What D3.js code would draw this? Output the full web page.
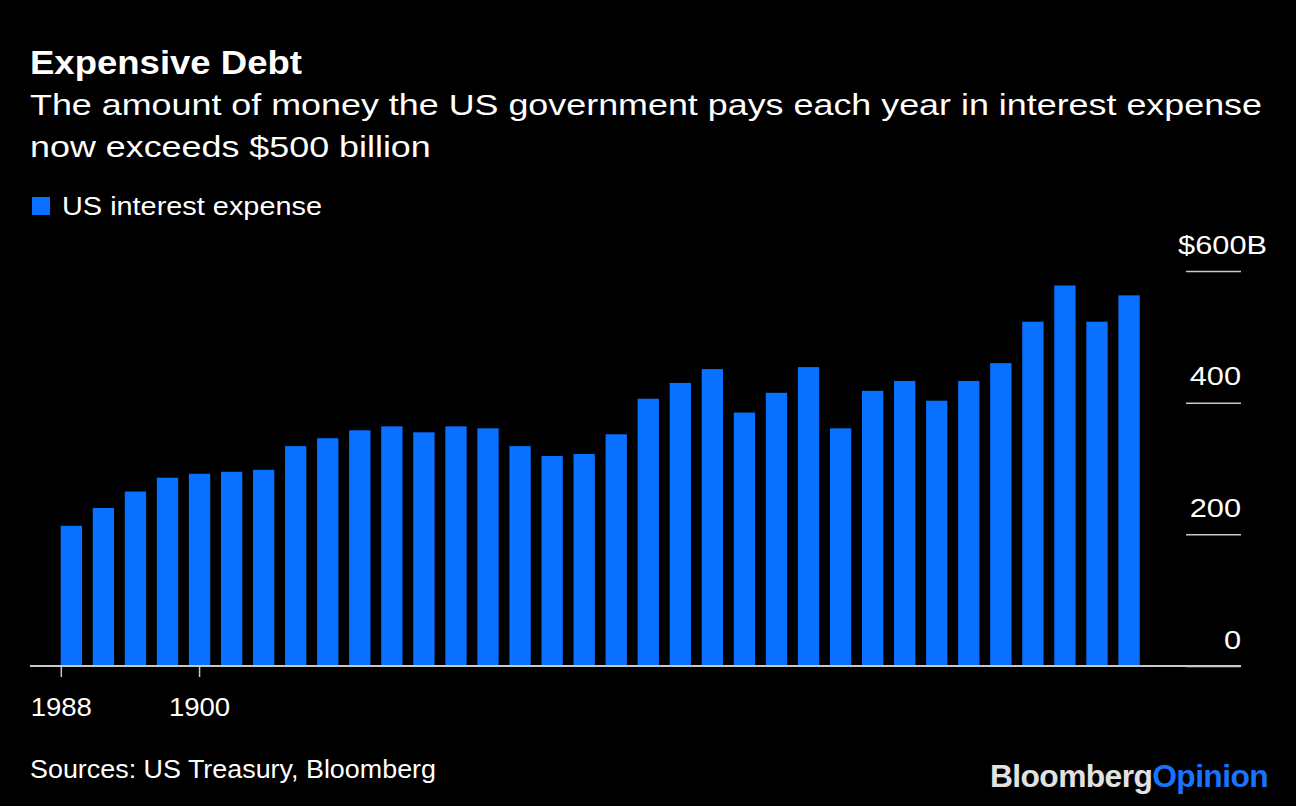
<!DOCTYPE html>
<html><head><meta charset="utf-8">
<script src="https://cdn.jsdelivr.net/npm/d3@7"></script>
<style>
html,body{margin:0;padding:0;background:#000;}
svg{display:block;}
text{font-family:"Liberation Sans",Arial,Helvetica,sans-serif;}
</style>
</head><body>
<svg id="chart" width="1296" height="806"></svg>
<script>
// ---- data ----
const years = [1988,1989,1990,1991,1992,1993,1994,1995,1996,1997,1998,1999,2000,2001,2002,2003,2004,
               2005,2006,2007,2008,2009,2010,2011,2012,2013,2014,2015,2016,2017,2018,2019,2020,2021];
const interestExpense = [213,240,265,286,292,295,298,334,346,358,364,355,364,361,334,319,322,
                         352,406,430,451,385,415,454,361,418,433,403,433,460,523,578,523,563];
const yTickValues = [0,200,400,600];
const yTickLabels = ["0","200","400","$600B"];
const xTickYears = [1988,1992];
const xTickLabels = ["1988","1900"];

const titleText = "Expensive Debt";
const subtitleLines = ["The amount of money the US government pays each year in interest expense",
                       "now exceeds $500 billion"];
const legendLabel = "US interest expense";
const sourceText = "Sources: US Treasury, Bloomberg";

// ---- style ----
const BAR = "#0a70ff";
const AXIS = "#c8c8c8";

const svg = d3.select("#chart");
svg.append("rect").attr("width",1296).attr("height",806).attr("fill","#000");

function fit(sel, w){ sel.attr("textLength", w).attr("lengthAdjust","spacingAndGlyphs"); }
function stretch(sel, f){
  sel.each(function(){
    const w = this.getComputedTextLength();
    d3.select(this).attr("textLength", w*f).attr("lengthAdjust","spacingAndGlyphs");
  });
}

// ---- header ----
const t = svg.append("text").attr("x",30).attr("y",74).attr("fill","#fff")
  .attr("font-size",33).attr("font-weight","bold").text(titleText);
fit(t, 272);

const s1 = svg.append("text").attr("x",30).attr("y",115).attr("fill","#fff")
  .attr("font-size",29).text(subtitleLines[0]);
const w1 = s1.node().getComputedTextLength();
const sf = 1232 / w1;
fit(s1, 1232);
const s2 = svg.append("text").attr("x",30).attr("y",157).attr("fill","#fff")
  .attr("font-size",29).text(subtitleLines[1]);
stretch(s2, sf);

// legend
svg.append("rect").attr("x",32).attr("y",197).attr("width",18).attr("height",18).attr("fill",BAR);
const lg = svg.append("text").attr("x",62).attr("y",215).attr("fill","#fff")
  .attr("font-size",26).text(legendLabel);
fit(lg, 260);

// ---- scales ----
const x = d3.scaleBand().domain(years).range([60.7, 1139.7]).paddingInner(0.335).paddingOuter(0);
const y = d3.scaleLinear().domain([0,600]).range([666,271]);

// bars
svg.append("g").selectAll("rect").data(years).join("rect")
  .attr("x", d => x(d))
  .attr("width", x.bandwidth())
  .attr("y", (d,i) => y(interestExpense[i]))
  .attr("height", (d,i) => y(0) - y(interestExpense[i]))
  .attr("fill", BAR);

// y axis (right side, short grid lines with labels above)
const yAxis = d3.axisLeft(y).tickValues(yTickValues).tickSize(55).tickPadding(0)
  .tickFormat((d,i) => yTickLabels[i]);
const gy = svg.append("g").attr("transform","translate(1241,0)").call(yAxis);
gy.select(".domain").remove();
gy.selectAll(".tick line").attr("stroke",AXIS).attr("stroke-width",1.5);
gy.selectAll(".tick text")
  .attr("x", d => d === 600 ? 26 : 0)
  .attr("dy", null)
  .attr("y", -18)
  .attr("text-anchor","end")
  .attr("fill","#fff")
  .attr("font-size",26.5)
  .attr("font-family",'"Liberation Sans",Arial,Helvetica,sans-serif');
stretch(gy.selectAll(".tick text"), 1.16);

// baseline
svg.append("line").attr("x1",30).attr("x2",1241).attr("y1",y(0)).attr("y2",y(0))
  .attr("stroke",AXIS).attr("stroke-width",2);

// x ticks
const xTickPos = xTickYears.map((yr,i) => i === 0 ? x(yr) + 0.6 : x(yr) + x.bandwidth()/2);
const gx = svg.append("g");
gx.selectAll("line").data(xTickPos).join("line")
  .attr("x1", d => d).attr("x2", d => d)
  .attr("y1", y(0)).attr("y2", y(0) + 11)
  .attr("stroke",AXIS).attr("stroke-width",1.5);
const xl = gx.selectAll("text").data(xTickPos).join("text")
  .attr("x", d => d).attr("y", 716)
  .attr("text-anchor","middle").attr("fill","#fff").attr("font-size",26.5)
  .text((d,i) => xTickLabels[i]);
stretch(xl, 1.04);

// source
const src = svg.append("text").attr("x",30).attr("y",778).attr("fill","#fff")
  .attr("font-size",25).text(sourceText);
fit(src, 406);

// logo
const logo = svg.append("text").attr("x",990).attr("y",787)
  .attr("font-size",31).attr("font-weight","bold").attr("letter-spacing",-0.6);
logo.append("tspan").attr("fill","#e2e2e2").text("Bloomberg");
logo.append("tspan").attr("fill","#1a73ff").text("Opinion");
fit(logo, 278);
</script>
</body></html>
